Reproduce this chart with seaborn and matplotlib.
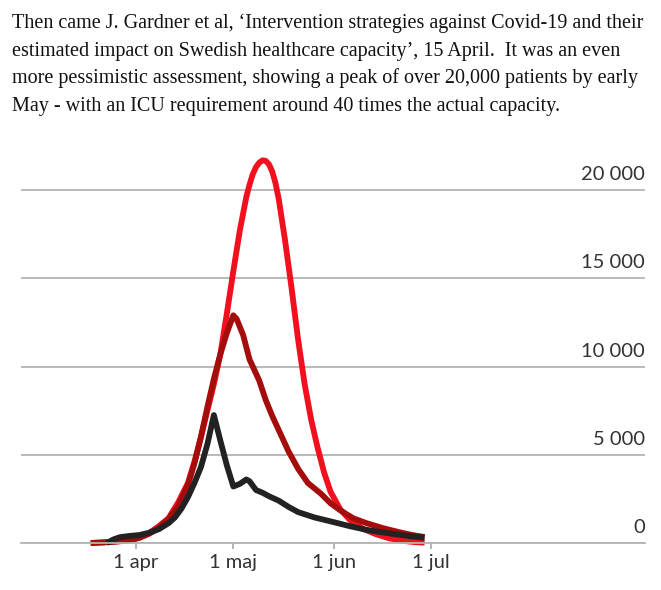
import pandas as pd
import matplotlib.pyplot as plt
import seaborn as sns

# days counted from 1 April 2020
start = pd.Timestamp("2020-04-01")

total_days = [-14, -10, -6, -2, 1, 4, 7, 10, 13, 16, 18, 20, 22, 24, 26, 28, 30, 32, 34, 35, 36, 37,
              38, 39, 40, 41, 42, 43, 44, 46, 48, 50, 52, 54, 56, 58, 60, 63, 66, 70, 74, 78, 82, 86, 89]
total_vals = [0, 40, 90, 170, 300, 560, 950, 1400, 2300, 3400, 4600, 6000, 7500, 9000, 10700, 13000,
              15400, 17700, 19600, 20300, 20900, 21300, 21550, 21680, 21650, 21450, 21050, 20400,
              19500, 17100, 14400, 11500, 9000, 7000, 5400, 4000, 2900, 1900, 1300, 800, 500, 270,
              130, 50, 20]

mid_days = [-14, -10, -6, -2, 1, 4, 7, 10, 13, 16, 18, 20, 22, 24, 26, 28, 30, 31, 33, 35, 36, 38,
            40, 42, 44, 47, 50, 53, 57, 60, 63, 67, 71, 76, 81, 85, 89]
mid_vals = [0, 30, 80, 150, 290, 520, 850, 1350, 2100, 3300, 4500, 6000, 7700, 9300, 10700, 11900,
            12900, 12700, 11800, 10400, 10000, 9200, 8100, 7200, 6400, 5200, 4200, 3400, 2800, 2250,
            1850, 1400, 1130, 850, 620, 460, 340]

low_days = [-9, -7, -5, -2, 1, 4, 7, 10, 12, 14, 16, 18, 20, 22, 24, 26, 28, 30, 32, 34, 35, 37,
            39, 41, 44, 47, 50, 55, 61, 66, 71, 76, 81, 85, 89]
low_vals = [0, 200, 330, 400, 450, 580, 780, 1120, 1450, 1950, 2600, 3400, 4300, 5600, 7250, 5800,
            4400, 3200, 3350, 3600, 3500, 3000, 2850, 2650, 2400, 2050, 1750, 1450, 1180, 950, 750,
            600, 470, 370, 300]

series_names = ["total", "mid", "low"]
series_colors = ["#f2101e", "#a50c0c", "#222222"]

tick_dates = ["2020-04-01", "2020-05-01", "2020-06-01", "2020-07-01"]
tick_labels = ["1 apr", "1 maj", "1 jun", "1 jul"]
y_ticks = [0, 5000, 10000, 15000, 20000]
y_labels = ["0", "5 000", "10 000", "15 000", "20 000"]

title_lines = [
    "Then came J. Gardner et al, \u2018Intervention strategies against Covid-19 and their",
    "estimated impact on Swedish healthcare capacity\u2019, 15 April.  It was an even",
    "more pessimistic assessment, showing a peak of over 20,000 patients by early",
    "May - with an ICU requirement around 40 times the actual capacity.",
]

frames = []
for name, d, v in [("total", total_days, total_vals), ("mid", mid_days, mid_vals), ("low", low_days, low_vals)]:
    frames.append(pd.DataFrame({"date": start + pd.to_timedelta(d, unit="D"), "value": v, "series": name}))
df = pd.concat(frames, ignore_index=True)

sns.set_style("white")
plt.rcParams["font.family"] = ["Lato", "DejaVu Sans"]

fig = plt.figure(figsize=(6.61, 5.90), dpi=100)
ax = fig.add_axes([21 / 661, 47 / 590, 624 / 661, 0.6671])

sns.lineplot(data=df, x="date", y="value", hue="series", hue_order=series_names,
             palette=series_colors, linewidth=4.2, errorbar=None, legend=False, ax=ax)
for ln in ax.lines:
    ln.set_clip_on(False)
    ln.set_solid_capstyle("butt")
    ln.set_solid_joinstyle("round")

ax.set_xlim(start - pd.Timedelta(days=35.5), start + pd.Timedelta(days=157))
ax.set_ylim(0, 22300)
ax.set_xlabel("")
ax.set_ylabel("")

ax.set_xticks(pd.to_datetime(tick_dates))
ax.set_xticklabels(tick_labels, fontsize=14.5, color="#333333")
ax.tick_params(axis="x", length=4, width=1.2, color="#a8a8a8", pad=4, bottom=True)

ax.set_yticks(y_ticks)
ax.set_yticklabels([])
ax.tick_params(axis="y", length=0)
ax.grid(axis="y", color="#b4b4b4", linewidth=1.3)
ax.grid(axis="x", visible=False)
for side in ["top", "left", "right"]:
    ax.spines[side].set_visible(False)
ax.spines["bottom"].set_color("#b4b4b4")
ax.spines["bottom"].set_linewidth(1.3)

for val, lab in zip(y_ticks, y_labels):
    ax.annotate(lab, xy=(1, val), xycoords=("axes fraction", "data"),
                xytext=(0, 5), textcoords="offset points",
                ha="right", va="bottom", fontsize=14.5, color="#333333")

for i, line in enumerate(title_lines):
    fig.text(12 / 661, 1 - (28 + i * 27.7) / 590, line, fontsize=14.5,
             family=["Liberation Serif", "DejaVu Serif"], color="#111111", va="baseline")

fig.savefig("out.png", dpi=100)
